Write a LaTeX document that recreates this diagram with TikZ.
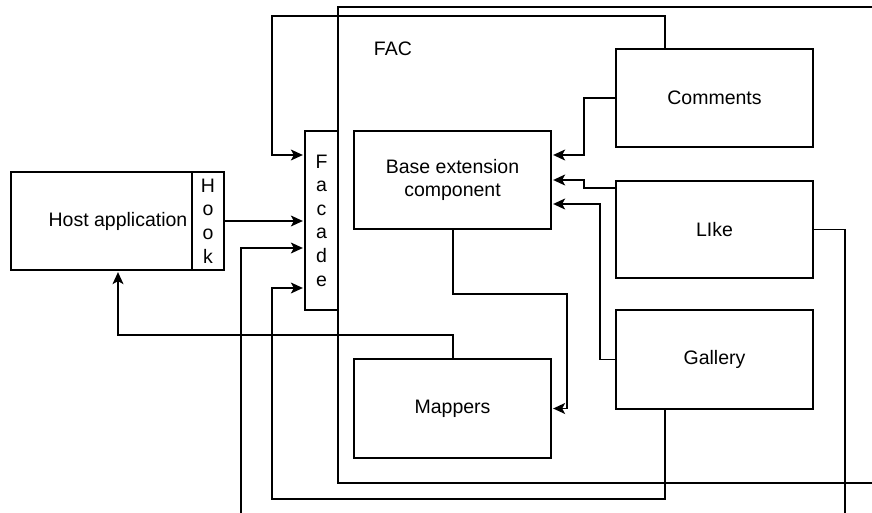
\documentclass[tikz,border=0pt]{standalone}
\usepackage{fontspec}
\setmainfont{Liberation Sans}
\usetikzlibrary{arrows.meta}
\begin{document}
\begin{tikzpicture}[x=1pt,y=-1pt,
  line width=1.3pt,
  every node/.style={font=\fontsize{19.5}{23.6}\selectfont},
  box/.style={draw, fill=white, inner sep=0pt, align=center},
  arr/.style={-{Stealth[length=12pt,width=11pt,inset=3pt]}, shorten >=1.5pt}]
\useasboundingbox (0,0) rectangle (872,513);
\clip (0,0) rectangle (872,513);
\fill[white] (0,0) rectangle (872,513);
% FAC container
\draw (338,7) rectangle (920,483);
\node[anchor=west] (faclabel) at (370,49) {FAC};
% boxes
\node[box, minimum width=213pt, minimum height=98pt] (host) at (117.5,221) {};
\node (hosttext) at (118,221) {Host application};
\node[box, minimum width=32pt, minimum height=98pt] (hook) at (208,221) {H\\o\\o\\k};
\node[box, minimum width=33pt, minimum height=179pt] (facade) at (321.5,220.5) {F\\a\\c\\a\\d\\e};
\node[box, minimum width=197pt, minimum height=98pt] (base) at (452.5,180) {Base extension\\component};
\node[box, minimum width=197pt, minimum height=99pt] (mappers) at (452.5,408.5) {Mappers};
\node[box, minimum width=197pt, minimum height=98pt] (comments) at (714.5,98) {Comments};
\node[box, minimum width=197pt, minimum height=97pt] (like) at (714.5,229.5) {LIke};
\node[box, minimum width=197pt, minimum height=99pt] (gallery) at (714.5,359.5) {Gallery};
% connectors
\draw[arr] (665,0 |- comments.north) -- (665,16) -- (272,16) -- (272,155) -- (facade.west |- 0,155);
\draw[arr] (hook.east) -- (hook.east -| facade.west);
\draw[arr] (like.east) -- (845,0 |- like.east) -- (845,530) -- (241,530) -- (241,248) -- (facade.west |- 0,248);
\draw[arr] (665,0 |- gallery.south) -- (665,499) -- (272,499) -- (272,288) -- (facade.west |- 0,288);
\draw[arr] (453,0 |- mappers.north) -- (453,335) -- (118,335) -- (118,0 |- host.south);
\draw[arr] (453,0 |- base.south) -- (453,294) -- (567,294) -- (567,0 |- mappers.east) -- (mappers.east);
\draw[arr] (comments.west) -- (584,0 |- comments.west) -- (584,155) -- (base.east |- 0,155);
\draw[arr] (like.west |- 0,188) -- (584,188) -- (584,180) -- (base.east |- 0,180);
\draw[arr] (gallery.west) -- (600,0 |- gallery.west) -- (600,204) -- (base.east |- 0,204);
\end{tikzpicture}
\end{document}
